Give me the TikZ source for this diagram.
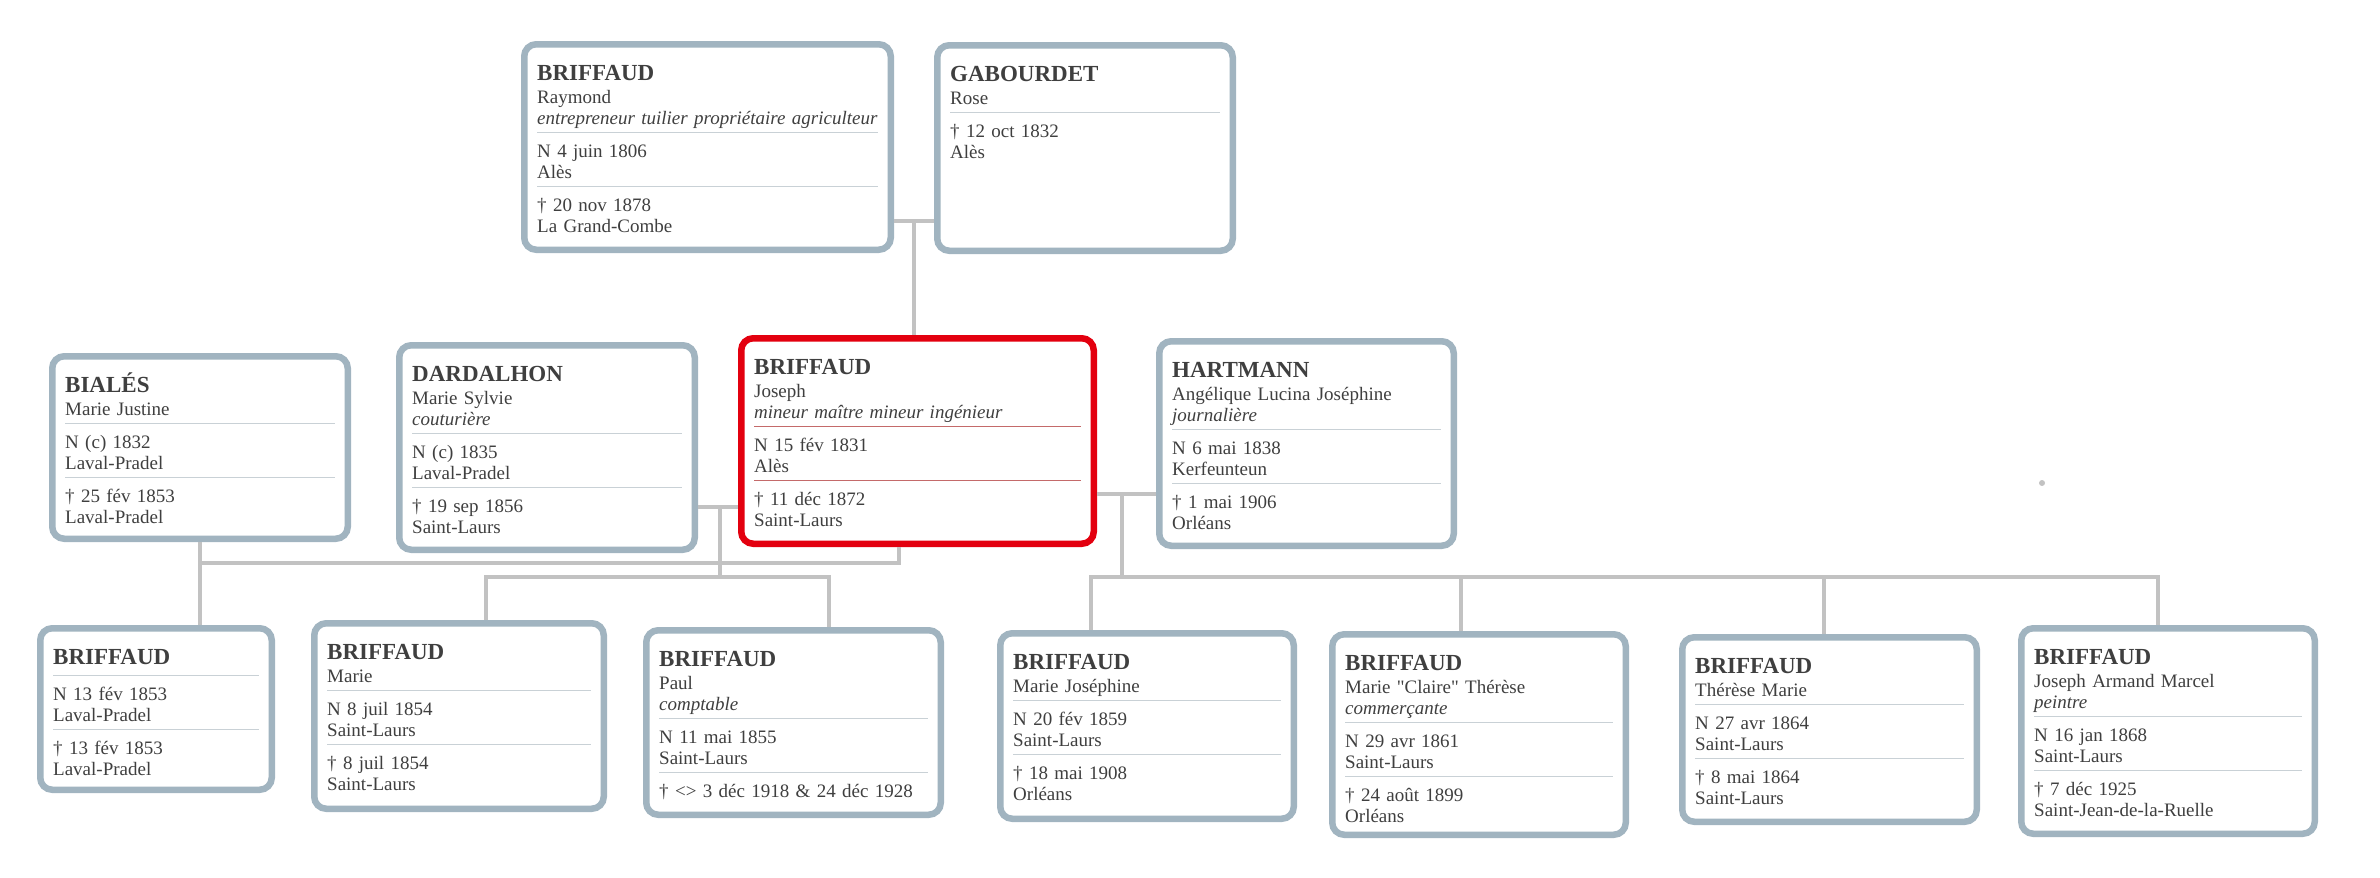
\documentclass[tikz,border=0pt]{standalone}
\usepackage{fontspec}
\setmainfont{Liberation Serif}

\definecolor{cadre}{HTML}{A1B4C0}
\definecolor{cadresel}{HTML}{E3000F}
\definecolor{trait}{HTML}{C2C2C2}
\definecolor{filet}{HTML}{C9D1D6}
\definecolor{filetsel}{HTML}{C46A6A}
\definecolor{encre}{HTML}{3F3F3F}

\newcommand{\nom}[1]{{\fontsize{23}{21}\selectfont\bfseries #1}}
\newcommand{\sepfilet}{\smash{\rlap{\textcolor{filet}{\rule[24pt]{\linewidth}{1.2pt}}}}}
\newcommand{\sepfiletsel}{\smash{\rlap{\textcolor{filetsel}{\rule[24pt]{\linewidth}{1.2pt}}}}}

\tikzset{
  fiche/.style={draw=cadre, line width=6.5pt, rounded corners=12pt, fill=white, anchor=north west, inner sep=0pt},
  fichesel/.style={fiche, draw=cadresel},
  texte/.style={anchor=base west, align=left, inner sep=0pt, text=encre, font=\fontsize{19}{21}\selectfont},
  lien/.style={draw=trait, line width=4.5pt},
}

\begin{document}
\begin{tikzpicture}[x=1pt,y=-1pt]
\useasboundingbox (0,0) rectangle (2380,878);
\fill[white] (0,0) rectangle (2380,878);

% parents
\node[fiche, minimum width=366.5, minimum height=205.5] (raymond) at (521,41) {};
\node[texte, text width=341] (raymond-t) at ([shift={(16,39)}]raymond.north west)
  {\nom{BRIFFAUD}\\[2pt]
   Raymond\\
   \mbox{\textit{entrepreneur tuilier propriétaire agriculteur}}\\[12pt]
   \sepfilet N 4 juin 1806\\
   Alès\\[12pt]
   \sepfilet † 20 nov 1878\\
   La Grand-Combe};

\node[fiche, minimum width=295.5, minimum height=205.5] (rose) at (934,42) {};
\node[texte, text width=270] (rose-t) at ([shift={(16,39)}]rose.north west)
  {\nom{GABOURDET}\\[2pt]
   Rose\\[12pt]
   \sepfilet † 12 oct 1832\\
   Alès};

% couple
\node[fiche, minimum width=295.5, minimum height=182.5] (justine) at (49,353) {};
\node[texte, text width=270] (justine-t) at ([shift={(16,39)}]justine.north west)
  {\nom{BIALÉS}\\[2pt]
   Marie Justine\\[12pt]
   \sepfilet N (c) 1832\\
   Laval-Pradel\\[12pt]
   \sepfilet † 25 fév 1853\\
   Laval-Pradel};

\node[fiche, minimum width=295.5, minimum height=204.5] (sylvie) at (396,342) {};
\node[texte, text width=270] (sylvie-t) at ([shift={(16,39)}]sylvie.north west)
  {\nom{DARDALHON}\\[2pt]
   Marie Sylvie\\
   \textit{couturière}\\[12pt]
   \sepfilet N (c) 1835\\
   Laval-Pradel\\[12pt]
   \sepfilet † 19 sep 1856\\
   Saint-Laurs};

\node[fichesel, minimum width=352.5, minimum height=205.5] (joseph) at (738,335) {};
\node[texte, text width=327] (joseph-t) at ([shift={(16,39)}]joseph.north west)
  {\nom{BRIFFAUD}\\[2pt]
   Joseph\\
   \textit{mineur maître mineur ingénieur}\\[12pt]
   \sepfiletsel N 15 fév 1831\\
   Alès\\[12pt]
   \sepfiletsel † 11 déc 1872\\
   Saint-Laurs};

\node[fiche, minimum width=294.5, minimum height=204.5] (angelique) at (1156,338) {};
\node[texte, text width=269] (angelique-t) at ([shift={(16,39)}]angelique.north west)
  {\nom{HARTMANN}\\[2pt]
   Angélique Lucina Joséphine\\
   \textit{journalière}\\[12pt]
   \sepfilet N 6 mai 1838\\
   Kerfeunteun\\[12pt]
   \sepfilet † 1 mai 1906\\
   Orléans};

% enfants
\node[fiche, minimum width=231.5, minimum height=161.5] (nouveaune) at (37,625) {};
\node[texte, text width=206] (nouveaune-t) at ([shift={(16,39)}]nouveaune.north west)
  {\nom{BRIFFAUD}\\[15pt]
   \sepfilet N 13 fév 1853\\
   Laval-Pradel\\[12pt]
   \sepfilet † 13 fév 1853\\
   Laval-Pradel};

\node[fiche, minimum width=289.5, minimum height=185.5] (marie) at (311,620) {};
\node[texte, text width=264] (marie-t) at ([shift={(16,39)}]marie.north west)
  {\nom{BRIFFAUD}\\[2pt]
   Marie\\[12pt]
   \sepfilet N 8 juil 1854\\
   Saint-Laurs\\[12pt]
   \sepfilet † 8 juil 1854\\
   Saint-Laurs};

\node[fiche, minimum width=294.5, minimum height=184.5] (paul) at (643,627) {};
\node[texte, text width=269] (paul-t) at ([shift={(16,39)}]paul.north west)
  {\nom{BRIFFAUD}\\[2pt]
   Paul\\
   \textit{comptable}\\[12pt]
   \sepfilet N 11 mai 1855\\
   Saint-Laurs\\[12pt]
   \sepfilet † <> 3 déc 1918 \& 24 déc 1928};

\node[fiche, minimum width=293.5, minimum height=185.5] (mariejo) at (997,630) {};
\node[texte, text width=268] (mariejo-t) at ([shift={(16,39)}]mariejo.north west)
  {\nom{BRIFFAUD}\\[2pt]
   Marie Joséphine\\[12pt]
   \sepfilet N 20 fév 1859\\
   Saint-Laurs\\[12pt]
   \sepfilet † 18 mai 1908\\
   Orléans};

\node[fiche, minimum width=293.5, minimum height=200.5] (claire) at (1329,631) {};
\node[texte, text width=268] (claire-t) at ([shift={(16,39)}]claire.north west)
  {\nom{BRIFFAUD}\\[2pt]
   Marie \textquotedbl Claire\textquotedbl{} Thérèse\\
   \textit{commerçante}\\[12pt]
   \sepfilet N 29 avr 1861\\
   Saint-Laurs\\[12pt]
   \sepfilet † 24 août 1899\\
   Orléans};

\node[fiche, minimum width=294.5, minimum height=184.5] (therese) at (1679,634) {};
\node[texte, text width=269] (therese-t) at ([shift={(16,39)}]therese.north west)
  {\nom{BRIFFAUD}\\[2pt]
   Thérèse Marie\\[12pt]
   \sepfilet N 27 avr 1864\\
   Saint-Laurs\\[12pt]
   \sepfilet † 8 mai 1864\\
   Saint-Laurs};

\node[fiche, minimum width=293.5, minimum height=205.5] (armand) at (2018,625) {};
\node[texte, text width=268] (armand-t) at ([shift={(16,39)}]armand.north west)
  {\nom{BRIFFAUD}\\[2pt]
   Joseph Armand Marcel\\
   \textit{peintre}\\[12pt]
   \sepfilet N 16 jan 1868\\
   Saint-Laurs\\[12pt]
   \sepfilet † 7 déc 1925\\
   Saint-Jean-de-la-Ruelle};

% liens
\coordinate (rg) at (914,221);
\draw[lien] (raymond.east |- rg) -- (rose.west |- rg);
\draw[lien] (rg) -- (rg |- joseph.north);

\coordinate (bj) at (899,563);
\draw[lien] (justine.south) -- (justine.south |- nouveaune.north);
\draw[lien] (justine.south |- bj) -- (bj) -- (bj |- joseph.south);

\coordinate (dj) at (720,507);
\coordinate (djg) at (486,577);
\coordinate (djd) at (829,577);
\draw[lien] (sylvie.east |- dj) -- (joseph.west |- dj);
\draw[lien] (dj) -- (dj |- djg);
\draw[lien] (djg |- marie.north) -- (djg) -- (djd) -- (djd |- paul.north);

\coordinate (jh) at (1122,494);
\coordinate (jhg) at (1091,577);
\coordinate (jhd) at (2158,577);
\draw[lien] (joseph.east |- jh) -- (angelique.west |- jh);
\draw[lien] (jh) -- (jh |- jhg);
\draw[lien] (jhg |- mariejo.north) -- (jhg) -- (jhd) -- (jhd |- armand.north);
\draw[lien] (1461,577) -- (1461,577 |- claire.north);
\draw[lien] (1824,577) -- (1824,577 |- therese.north);

\fill[trait] (2042,483) circle (3);
\end{tikzpicture}
\end{document}
